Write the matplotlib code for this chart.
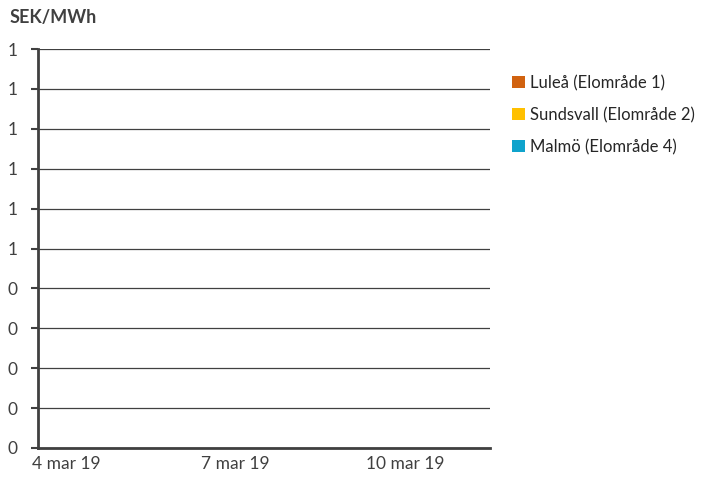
import matplotlib
matplotlib.use("Agg")
import matplotlib.pyplot as plt
import numpy as np
from matplotlib.patches import Patch
from matplotlib.ticker import FuncFormatter

plt.rcParams['font.family'] = ['Lato', 'DejaVu Sans']

# category axis: one entry per day, labels every third day
days = ["4 mar 19", "5 mar 19", "6 mar 19", "7 mar 19",
        "8 mar 19", "9 mar 19", "10 mar 19", "11 mar 19"]
series_names = ["Luleå (Elområde 1)", "Sundsvall (Elområde 2)", "Malmö (Elområde 4)"]
series_colors = ["#D1620F", "#FFC000", "#0FA3CC"]
# no prices shown in the reference
lulea = [np.nan] * len(days)
sundsvall = [np.nan] * len(days)
malmo = [np.nan] * len(days)
y_ticks = [0.0, 0.1, 0.2, 0.3, 0.4, 0.5, 0.6, 0.7, 0.8, 0.9, 1.0]

fig = plt.figure(figsize=(7.11, 4.84), dpi=100)
ax = fig.add_axes([38/711, 1 - 448/484, (490-38)/711, (448-49)/484])

x = np.arange(len(days))
for vals, c in zip([lulea, sundsvall, malmo], series_colors):
    ax.plot(x, vals, color=c, lw=2)

ax.set_xlim(-0.5, len(days) - 0.5)
ax.set_ylim(0, 1)
ax.set_yticks(y_ticks)
# whole numbers, half rounds up (like the source spreadsheet)
ax.yaxis.set_major_formatter(FuncFormatter(lambda v, p: f"{int(np.floor(v + 0.5 + 1e-9))}"))
ax.set_xticks(x[::3])
ax.set_xticklabels(days[::3])
ax.grid(axis="y", color="#404040", lw=0.9)
ax.set_axisbelow(True)
for s in ["top", "right"]:
    ax.spines[s].set_visible(False)
for s in ["left", "bottom"]:
    ax.spines[s].set_color("#404040")
    ax.spines[s].set_linewidth(2)
ax.tick_params(axis="y", length=5, width=1.5, color="#404040",
               labelsize=12.5, labelcolor="#404040", pad=10)
ax.tick_params(axis="x", length=0, labelsize=12.5, labelcolor="#404040", pad=6)

fig.text(10/711, 1 - 18/484, "SEK/MWh", fontsize=13, fontweight="bold",
         color="#404040", va="center", ha="left")

handles = [Patch(facecolor=c, edgecolor="none") for c in series_colors]
fig.legend(handles, series_names, loc="upper left",
           bbox_to_anchor=(497/711, 1 - 60/484), frameon=False,
           fontsize=12, handlelength=0.75, handleheight=0.75,
           handletextpad=0.35, labelspacing=0.95, labelcolor="#262626")

fig.savefig("out.png", dpi=100)
